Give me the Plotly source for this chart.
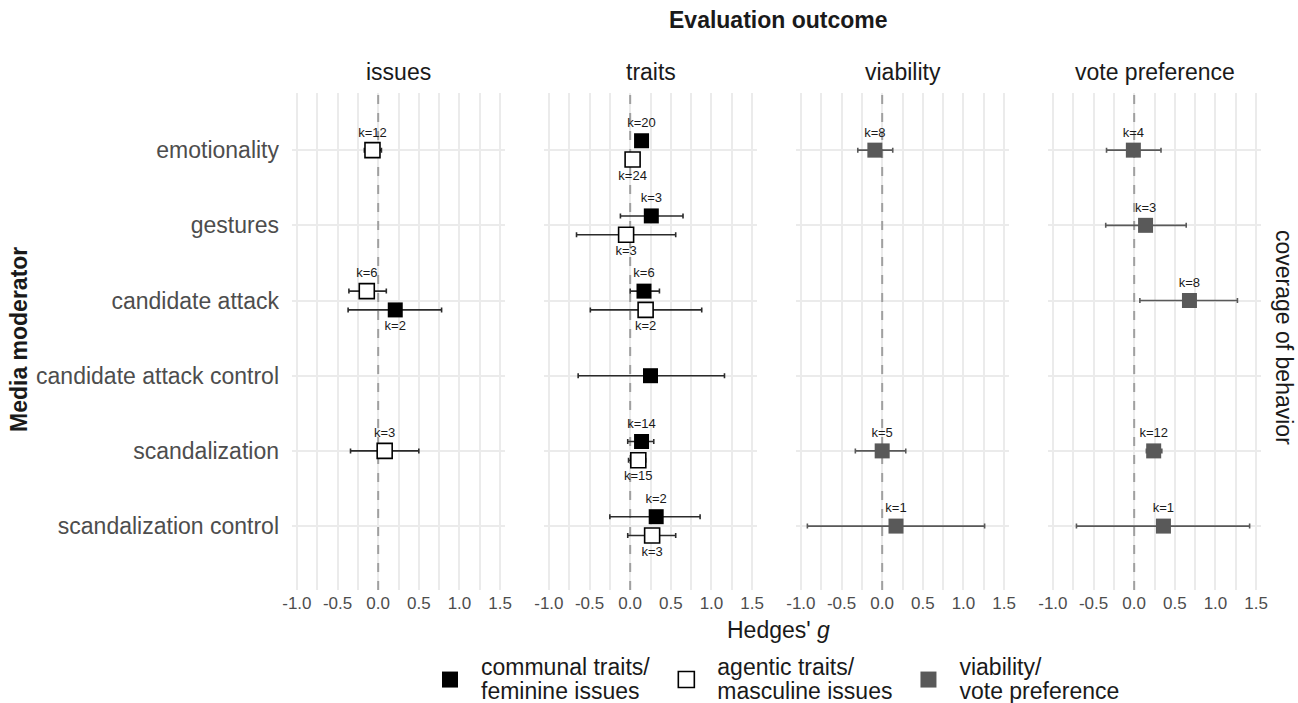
import plotly.graph_objects as go

# ---------------- data ----------------
categories = ["emotionality", "gestures", "candidate attack",
              "candidate attack control", "scandalization", "scandalization control"]
panels = ["issues", "traits", "viability", "vote preference"]
tick_vals = [-1.0, -0.5, 0.0, 0.5, 1.0, 1.5]
tick_text = ["-1.0", "-0.5", "0.0", "0.5", "1.0", "1.5"]

# issues
issues_fem_est = [None, None, 0.21, None, None, None]
issues_fem_lo = [None, None, -0.37, None, None, None]
issues_fem_hi = [None, None, 0.78, None, None, None]
issues_fem_k = [None, None, 2, None, None, None]

issues_mas_est = [-0.07, None, -0.14, None, 0.08, None]
issues_mas_lo = [-0.17, None, -0.36, None, -0.34, None]
issues_mas_hi = [0.04, None, 0.10, None, 0.50, None]
issues_mas_k = [12, None, 6, None, 3, None]

# traits
traits_com_est = [0.14, 0.26, 0.17, 0.25, 0.14, 0.32]
traits_com_lo = [0.08, -0.12, 0.00, -0.64, -0.03, -0.25]
traits_com_hi = [0.20, 0.65, 0.36, 1.16, 0.29, 0.86]
traits_com_k = [20, 3, 6, None, 14, 2]

traits_age_est = [0.03, -0.05, 0.19, None, 0.10, 0.27]
traits_age_lo = [-0.01, -0.66, -0.49, None, -0.02, -0.03]
traits_age_hi = [0.08, 0.56, 0.88, None, 0.19, 0.56]
traits_age_k = [24, 3, 2, None, 15, 3]

# viability
viab_est = [-0.09, None, None, None, 0.00, 0.17]
viab_lo = [-0.30, None, None, None, -0.33, -0.92]
viab_hi = [0.13, None, None, None, 0.29, 1.26]
viab_k = [8, None, None, None, 5, 1]

# vote preference
vote_est = [-0.01, 0.14, 0.68, None, 0.24, 0.36]
vote_lo = [-0.34, -0.35, 0.07, None, 0.15, -0.71]
vote_hi = [0.33, 0.64, 1.27, None, 0.34, 1.42]
vote_k = [4, 3, 8, None, 12, 1]

legend_lines = [("communal traits/", "feminine issues"),
                ("agentic traits/", "masculine issues"),
                ("viability/", "vote preference")]

# ---------------- styles ----------------
W, H = 1298, 703
BLACK, WHITE, GRAY = "#000000", "#ffffff", "#595959"
GRID = "#ebebeb"
TXT = "#4d4d4d"
FONT = "Liberation Sans, Arial, sans-serif"

panel_left_px = [292, 544, 796, 1048]
panel_w_px = 213
y_top_px, y_bot_px = 93, 590
xr = [-1.06, 1.56]
yr = [5.85, -0.76]
dodge = 0.125

series = [
    [(issues_mas_est, issues_mas_lo, issues_mas_hi, issues_mas_k, "white"),
     (issues_fem_est, issues_fem_lo, issues_fem_hi, issues_fem_k, "black")],
    [(traits_com_est, traits_com_lo, traits_com_hi, traits_com_k, "black"),
     (traits_age_est, traits_age_lo, traits_age_hi, traits_age_k, "white")],
    [(viab_est, viab_lo, viab_hi, viab_k, "gray")],
    [(vote_est, vote_lo, vote_hi, vote_k, "gray")],
]

style = {
    "black": dict(fill=BLACK, line=BLACK, lw=0, err="#2b2b2b"),
    "white": dict(fill=WHITE, line=BLACK, lw=1.6, err="#2b2b2b"),
    "gray": dict(fill=GRAY, line=GRAY, lw=0, err=GRAY),
}

fig = go.Figure()

# dashed reference line at g = 0 in every panel (drawn first, beneath markers)
for p in range(len(panels)):
    xa = "x" if p == 0 else f"x{p+1}"
    fig.add_trace(go.Scatter(
        x=[0, 0], y=[yr[0], yr[1]], xaxis=xa, yaxis="y", mode="lines",
        line=dict(color="#a0a0a0", width=2, dash="dash"),
        showlegend=False, hoverinfo="skip"))

for p in range(len(panels)):
    xa = "x" if p == 0 else f"x{p+1}"
    sers = series[p]
    for si, (est, lo, hi, kk, st) in enumerate(sers):
        xs, ys, ep, em, txt, tpos = [], [], [], [], [], []
        for i in range(len(categories)):
            if est[i] is None:
                continue
            present = [s for s in sers if s[0][i] is not None]
            if len(present) == 2:
                off = -dodge if si == 0 else dodge
                pos = "top center" if si == 0 else "bottom center"
            else:
                off = 0.0
                pos = "top center"
            xs.append(est[i])
            ys.append(i + off)
            ep.append(hi[i] - est[i])
            em.append(est[i] - lo[i])
            txt.append(f"k={kk[i]}" if kk[i] is not None else "")
            tpos.append(pos)
        s = style[st]
        fig.add_trace(go.Scatter(
            x=xs, y=ys, xaxis=xa, yaxis="y",
            mode="markers+text", text=txt, textposition=tpos,
            textfont=dict(size=13, color="#1a1a1a", family=FONT),
            marker=dict(symbol="square", size=15, color=s["fill"],
                        line=dict(color=s["line"], width=s["lw"])),
            error_x=dict(type="data", symmetric=False, array=ep, arrayminus=em,
                         color=s["err"], thickness=1.6, width=2.5),
            showlegend=False, hoverinfo="skip"))

# legend entries
for (l1, l2), st in zip(legend_lines, ["black", "white", "gray"]):
    s = style[st]
    name = (f'<span style="font-size:23px">{l1}</span><br>'
            f'<span style="font-size:23px">{l2}</span>')
    fig.add_trace(go.Scatter(
        x=[None], y=[None], mode="markers", name=name,
        marker=dict(symbol="square", size=17, color=s["fill"],
                    line=dict(color=s["line"], width=s["lw"]))))

layout = dict(
    width=W, height=H,
    margin=dict(l=0, r=0, t=0, b=0, autoexpand=False),
    paper_bgcolor="white", plot_bgcolor="white",
    font=dict(family=FONT, color="#1a1a1a"),
    showlegend=True,
    legend=dict(orientation="h", x=772 / W, xanchor="center",
                y=1 - 680 / H, yanchor="middle",
                font=dict(size=18.5, color="#1a1a1a", family=FONT),
                itemsizing="trace", traceorder="normal", itemwidth=52),
    yaxis=dict(domain=[1 - y_bot_px / H, 1 - y_top_px / H], range=yr,
               tickvals=list(range(len(categories))), ticktext=categories,
               showgrid=True, gridcolor=GRID, gridwidth=1.6, zeroline=False,
               ticks="", tickfont=dict(size=23, color=TXT, family=FONT),
               ticklabelstandoff=12, anchor="x", showline=False),
)

for p in range(4):
    key = "xaxis" if p == 0 else f"xaxis{p+1}"
    d0 = panel_left_px[p] / W
    d1 = (panel_left_px[p] + panel_w_px) / W
    layout[key] = dict(
        domain=[d0, d1], range=xr, anchor="y",
        tickvals=tick_vals, ticktext=tick_text,
        showgrid=True, gridcolor=GRID, gridwidth=1.6, zeroline=False,
        minor=dict(tickvals=[-0.75, -0.25, 0.25, 0.75, 1.25], showgrid=True,
                   gridcolor=GRID, gridwidth=1.6),
        ticks="", tickfont=dict(size=17, color=TXT, family=FONT),
        ticklabelstandoff=1, showline=False)

fig.update_layout(**layout)

# strip labels
for p, name in enumerate(panels):
    cx = (panel_left_px[p] + panel_w_px / 2) / W
    fig.add_annotation(text=name, x=cx, y=1 - 72 / H, xref="paper", yref="paper",
                       showarrow=False, font=dict(size=23, color="#1a1a1a", family=FONT),
                       xanchor="center", yanchor="middle")

fig.add_annotation(text="<b>Evaluation outcome</b>", x=778 / W, y=1 - 20 / H,
                   xref="paper", yref="paper", showarrow=False,
                   font=dict(size=23, color="#1a1a1a", family=FONT),
                   xanchor="center", yanchor="middle")
fig.add_annotation(text="<b>Media moderator</b>", x=19 / W, y=1 - 340 / H,
                   xref="paper", yref="paper", showarrow=False, textangle=-90,
                   font=dict(size=23, color="#1a1a1a", family=FONT),
                   xanchor="center", yanchor="middle")
fig.add_annotation(text="coverage of behavior", x=1284 / W, y=1 - 337 / H,
                   xref="paper", yref="paper", showarrow=False, textangle=90,
                   font=dict(size=23, color="#1a1a1a", family=FONT),
                   xanchor="center", yanchor="middle")
fig.add_annotation(text="Hedges' <i>g</i>", x=778 / W, y=1 - 630 / H,
                   xref="paper", yref="paper", showarrow=False,
                   font=dict(size=23, color="#1a1a1a", family=FONT),
                   xanchor="center", yanchor="middle")

fig.write_html("out.html")
